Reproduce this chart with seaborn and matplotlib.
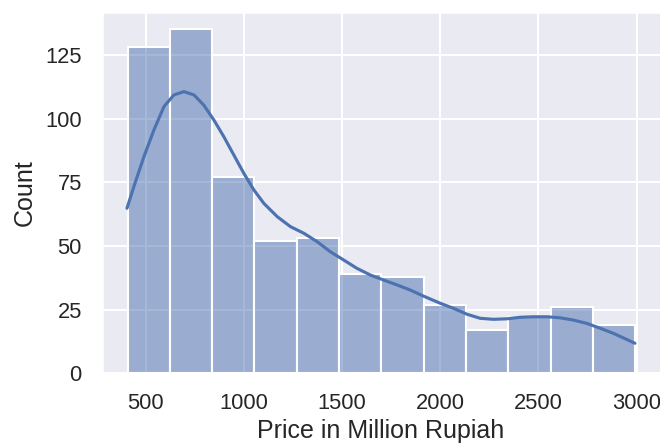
import numpy as np
import pandas as pd
import seaborn as sns
from matplotlib import pyplot as plt

# histogram counts (12 equal bins)
price_min, price_max = 408, 2992
counts = [128, 135, 77, 52, 53, 39, 38, 27, 17, 22, 26, 19]

# kde curve (price, count scale)
kde_price = [405, 440, 491, 542, 593, 644, 695, 746, 796, 847, 898, 949, 1000,
             1051, 1102, 1170, 1237, 1305, 1373, 1441, 1508, 1576, 1644, 1712,
             1780, 1847, 1915, 2000, 2068, 2136, 2203, 2271, 2339, 2407, 2474,
             2543, 2610, 2678, 2746, 2814, 2881, 2949, 2991]
kde_count = [64.8, 73.3, 85.0, 95.5, 104.7, 109.3, 110.6, 109.3, 105.3, 99.5,
             92.9, 85.7, 78.5, 72.0, 66.7, 61.5, 57.6, 55.0, 51.7, 47.7, 44.5,
             41.2, 38.6, 36.6, 34.7, 32.7, 30.3, 27.5, 25.5, 23.2, 21.6, 21.2,
             21.4, 22.0, 22.2, 22.2, 21.8, 20.9, 19.6, 17.7, 15.7, 13.3, 11.8]

sns.set_theme(rc={"xtick.labelsize": 10.5, "ytick.labelsize": 10.5})
plt.rcParams['font.family'] = ['Liberation Sans', 'DejaVu Sans']

edges = np.linspace(price_min, price_max, len(counts) + 1)
hist_df = pd.DataFrame({"price": (edges[:-1] + edges[1:]) / 2, "n": counts})

fig = plt.figure(figsize=(4.4, 443 / 150), dpi=150)
ax = fig.add_axes([0.1539, 0.1573, 0.8469, 0.815])

sns.histplot(data=hist_df, x="price", weights="n", bins=len(counts),
             binrange=(price_min, price_max), alpha=0.5, ax=ax)
sns.lineplot(x=kde_price, y=kde_count, color="#4c72b0", linewidth=1.5, ax=ax)

ax.set_xlabel("Price in Million Rupiah", labelpad=2.5)
ax.set_ylabel("Count")
ax.set_xticks([500, 1000, 1500, 2000, 2500, 3000])
ax.set_yticks([0, 25, 50, 75, 100, 125])

fig.savefig("out.png", dpi=150)
